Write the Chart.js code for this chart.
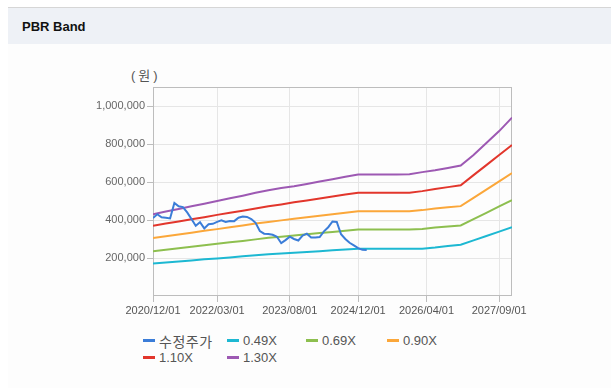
<!DOCTYPE html>
<html>
<head>
<meta charset="utf-8">
<script src="https://cdn.jsdelivr.net/npm/chart.js@4/dist/chart.umd.min.js"></script>
<style>
  html, body { margin: 0; padding: 0; background: #fff; }
  body { width: 611px; height: 388px; position: relative; overflow: hidden;
         font-family: "Liberation Sans", "Noto Sans CJK KR", sans-serif; }
  #panel { position: absolute; left: 8px; top: 7px; right: 0; bottom: 0;
           border-top: 1px solid #d6d6d6; background: #fdfdfd; }
  #head { height: 36px; background: #eef1f6; position: relative; }
  #head span { position: absolute; left: 14px; top: 11px; font-weight: bold; font-size: 13px; color: #111; }
  #wrap { position: absolute; left: 0; top: 44px; width: 611px; height: 282px; }
  #unit { position: absolute; left: 131px; top: 65px; font-size: 13px; letter-spacing: 3px; color: #555;
          font-family: "Liberation Sans", "Noto Sans CJK KR", sans-serif; }
  #legend { position: absolute; left: 143px; top: 332px; display: grid;
            grid-template-columns: 84px 79px 81px 81px; font-size: 13px; color: #555; }
  .item { display: flex; align-items: center; height: 17px; white-space: nowrap; }
  .sw { width: 12px; height: 3px; margin-right: 4px; }
  .kr { font-size: 14px; letter-spacing: 0.5px; }
</style>
</head>
<body>
<div id="panel"><div id="head"><span>PBR Band</span></div></div>
<div id="unit">(원)</div>
<div id="wrap"><canvas id="myChart" width="611" height="282"></canvas></div>
<div id="legend"></div>
<script>
// x tick labels and y ticks
const tickLabels = ['2020/12/01', '2022/03/01', '2023/08/01', '2024/12/01', '2026/04/01', '2027/09/01'];
const yTicks = [200000, 400000, 600000, 800000, 1000000];

// adjusted price, monthly
const priceMonths = [
  '2020/12', '2021/01', '2021/02', '2021/03', '2021/04', '2021/05', '2021/06', '2021/07', '2021/08', '2021/09', '2021/10', '2021/11',
  '2021/12', '2022/01', '2022/02', '2022/03', '2022/04', '2022/05', '2022/06', '2022/07', '2022/08', '2022/09', '2022/10', '2022/11',
  '2022/12', '2023/01', '2023/02', '2023/03', '2023/04', '2023/05', '2023/06', '2023/07', '2023/08', '2023/09', '2023/10', '2023/11',
  '2023/12', '2024/01', '2024/02', '2024/03', '2024/04', '2024/05', '2024/06', '2024/07', '2024/08', '2024/09', '2024/10', '2024/11',
  '2024/12', '2025/01', '2025/02',
];
const price = [
  410000, 430000, 414000, 412000, 408000, 490000, 472000, 468000, 440000, 405000, 370000, 388000,
  356000, 378000, 380000, 390000, 398000, 390000, 395000, 394000, 412000, 418000, 416000, 405000,
  385000, 342000, 328000, 326000, 322000, 312000, 278000, 294000, 312000, 300000, 292000, 318000,
  328000, 308000, 308000, 310000, 340000, 362000, 392000, 390000, 325000, 300000, 280000, 266000,
  252000, 243000, 242000,
];

// PBR bands, quarterly
const bandMonths = [
  '2020/12', '2021/03', '2021/06', '2021/09', '2021/12', '2022/03', '2022/06', '2022/09', '2022/12', '2023/03',
  '2023/06', '2023/09', '2023/12', '2024/03', '2024/06', '2024/09', '2024/12', '2025/03', '2025/06', '2025/09',
  '2025/12', '2026/03', '2026/06', '2026/09', '2026/12', '2027/03', '2027/06', '2027/09', '2027/12',
];
const band049 = [171000, 176000, 182000, 187000, 193000, 198000, 203000, 209000, 214000, 220000,
  224000, 228000, 232000, 236000, 241000, 245000, 249000, 249000, 249000, 249000,
  249000, 249000, 255000, 263000, 270000, 293000, 316000, 339000, 362000];
const band069 = [236000, 244000, 251000, 259000, 267000, 275000, 283000, 290000, 298000, 306000,
  312000, 318000, 325000, 331000, 337000, 344000, 350000, 350000, 350000, 350000,
  350000, 353000, 360000, 366000, 371000, 405000, 438000, 472000, 505000];
const band090 = [305000, 314000, 324000, 333000, 343000, 352000, 362000, 371000, 381000, 390000,
  398000, 406000, 414000, 422000, 430000, 438000, 446000, 446000, 446000, 446000,
  446000, 452000, 461000, 467000, 473000, 516000, 560000, 603000, 647000];
const band110 = [370000, 381000, 392000, 404000, 415000, 427000, 438000, 449000, 461000, 472000,
  482000, 493000, 503000, 513000, 524000, 534000, 544000, 544000, 544000, 544000,
  544000, 552000, 563000, 573000, 583000, 636000, 689000, 742000, 795000];
const band130 = [430000, 445000, 458000, 472000, 486000, 500000, 514000, 528000, 543000, 557000,
  568000, 578000, 590000, 603000, 615000, 628000, 640000, 640000, 640000, 640000,
  641000, 652000, 662000, 674000, 687000, 742000, 805000, 868000, 939000];

const monthIndex = (s) => {
  const [y, m] = s.split('/').map(Number);
  return (y - 2020) * 12 + (m - 12);
};
const toPoints = (months, values) => months.map((m, i) => ({ x: monthIndex(m), y: values[i] }));

const line = (label, months, values, color) => ({
  label,
  data: toPoints(months, values),
  borderColor: color,
  backgroundColor: color,
  borderWidth: 2,
  pointRadius: 0,
  tension: 0,
});

const datasets = [
  line('수정주가', priceMonths, price, '#3b7dd8'),
  line('0.49X', bandMonths, band049, '#1db8d2'),
  line('0.69X', bandMonths, band069, '#8dbf4f'),
  line('0.90X', bandMonths, band090, '#fba73a'),
  line('1.10X', bandMonths, band110, '#e2362c'),
  line('1.30X', bandMonths, band130, '#9d59b3'),
];

const frame = {
  id: 'frame',
  beforeDatasetsDraw(chart) {
    const { ctx, chartArea: a } = chart;
    ctx.save();
    ctx.strokeStyle = '#bdbdbd';
    ctx.lineWidth = 1;
    ctx.strokeRect(a.left + 0.5, a.top + 0.5, a.right - a.left - 1, a.bottom - a.top - 1);
    ctx.restore();
  },
};

const font = { family: '"Liberation Sans", Arial, sans-serif', size: 11 };

const ctx = document.getElementById('myChart').getContext('2d');
const chart = new Chart(ctx, {
  type: 'line',
  data: { datasets },
  options: {
    responsive: false,
    animation: false,
    layout: { padding: { top: 43, right: 99, bottom: 6, left: 0 } },
    plugins: { legend: { display: false }, tooltip: { enabled: false } },
    scales: {
      x: {
        type: 'linear',
        min: 0,
        max: 84,
        afterBuildTicks: (scale) => { scale.ticks = tickLabels.map((t) => ({ value: monthIndex(t) })); },
        afterFit: (scale) => { scale.height = 24; },
        ticks: {
          autoSkip: false,
          maxRotation: 0,
          padding: 2,
          color: '#555',
          font,
          callback: (v) => tickLabels.find((t) => monthIndex(t) === v) || '',
        },
        grid: { color: '#e6e6e6', tickColor: '#bdbdbd', tickLength: 6 },
        border: { display: false },
      },
      y: {
        min: 0,
        max: 1100000,
        afterBuildTicks: (scale) => { scale.ticks = yTicks.map((v) => ({ value: v })); },
        afterFit: (scale) => { scale.width = 153; },
        ticks: {
          padding: 2,
          color: '#666',
          font,
          callback: (v) => v.toLocaleString('en-US'),
        },
        grid: { color: '#e6e6e6', tickColor: '#bdbdbd', tickLength: 6 },
        border: { display: false },
      },
    },
  },
  plugins: [frame],
});

// legend in fixed columns, built from the datasets
const legend = document.getElementById('legend');
chart.data.datasets.forEach((ds) => {
  const item = document.createElement('div');
  item.className = 'item';
  const cls = /[\uac00-\ud7a3]/.test(ds.label) ? ' class="kr"' : '';
  item.innerHTML = `<span class="sw" style="background:${ds.borderColor}"></span><span${cls}>${ds.label}</span>`;
  legend.appendChild(item);
});
</script>
</body>
</html>
